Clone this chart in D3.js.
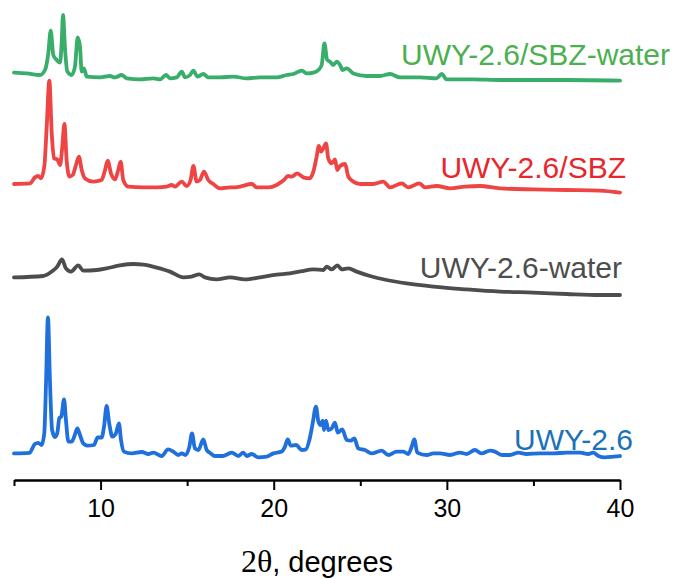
<!DOCTYPE html>
<html>
<head>
<meta charset="utf-8">
<script src="https://cdn.jsdelivr.net/npm/d3@7"></script>
<style>
  body { margin: 0; background: #fff; }
  svg { display: block; }
</style>
</head>
<body>
<div id="chart-area"></div>
<script>
// XRD patterns: [2theta (deg), intensity (a.u.)]
const xTicks = [10, 20, 30, 40];
const xMinorTicks = [5, 15, 25, 35];

const seriesNames = ["UWY-2.6", "UWY-2.6-water", "UWY-2.6/SBZ", "UWY-2.6/SBZ-water"];
const seriesOffsets = [10, 90, 140, 195];

const uwy = [
  [5.0,3.3],[5.9,3.6],[6.2,8.0],[6.4,8.6],[6.6,7.5],[6.75,13.5],[6.85,38.5],[6.96,71.3],[7.08,38.5],
  [7.2,15],[7.37,11.5],[7.5,13.5],[7.62,21],[7.73,21.7],[7.89,30.3],[8.0,20],[8.14,9.2],[8.33,9.2],
  [8.48,11.7],[8.66,15.8],[8.81,12.5],[9.0,8.3],[9.24,7.2],[9.62,7.5],[9.83,11.3],[10.06,11.2],
  [10.2,16.7],[10.35,27],[10.5,18.3],[10.68,11.7],[10.87,13],[11.06,18.3],[11.18,10],[11.35,4.2],
  [11.8,3.3],[12.38,4],[12.76,3],[13.05,3.7],[13.53,2],[13.9,5.3],[14.2,4.2],[14.49,2.5],[14.68,3.3],
  [14.9,2.5],[15.13,6.7],[15.28,13.3],[15.45,5.8],[15.65,5],[15.93,10.3],[16.13,5],[16.36,3.3],
  [16.6,2],[17.05,2],[17.44,3.3],[17.57,3.7],[17.96,2],[18.24,3.7],[18.44,2],[18.73,3],[19.11,1.3],
  [19.6,1.7],[19.98,3.3],[20.46,4.2],[20.65,6.7],[20.81,10.3],[20.98,7.2],[21.29,7.5],[21.62,5],
  [21.86,5.3],[22.06,10],[22.25,18.3],[22.44,26.7],[22.58,19.2],[22.71,17.5],[22.83,19.7],[22.9,15],
  [23.02,19.7],[23.15,15],[23.35,15.8],[23.54,18.7],[23.7,13.7],[23.96,15.3],[24.22,10],[24.45,9.7],
  [24.66,10.8],[24.88,5.8],[25.27,5],[25.66,3.3],[26.24,4.7],[26.62,2.5],[27.1,4.2],[27.49,4.2],
  [27.77,3],[27.97,6.7],[28.12,10.3],[28.29,3.7],[28.84,2.5],[29.22,3.3],[29.6,3.3],[30.18,2.5],
  [30.76,3.7],[31.14,3],[31.62,5],[32.0,3.3],[32.49,4.7],[32.78,4.2],[33.17,2.5],[33.65,2.5],
  [34.13,3.7],[34.61,3],[35.38,3.3],[36.15,3.3],[36.93,3.7],[37.7,3.7],[38.17,3],[38.46,3.7],
  [38.75,2],[39.14,1.3],[39.62,1.7],[40.0,2]
];

const uwyWater = [
  [5.0,11.3],[6.69,12],[7.18,14.2],[7.5,16.7],[7.77,20.3],[8.0,15.8],[8.29,14.2],[8.71,17.3],[9.0,14.7],
  [9.78,15],[10.35,15.8],[11.12,17.3],[11.89,18],[12.47,17.7],[13.24,16.2],[14.01,14.2],[14.78,11.3],
  [15.26,11.7],[15.7,12.8],[16.03,11.3],[16.71,10.3],[17.48,11.3],[18.34,10.3],[19.21,11.3],
  [20.17,12.7],[20.94,13.3],[21.6,14.4],[22.29,15.3],[22.87,15],[23.06,16.7],[23.35,15.3],
  [23.68,17.3],[23.93,15.3],[24.31,15.8],[24.79,14.2],[25.56,12],[26.52,10],[27.68,8.3],
  [29.22,6.7],[31.14,5.3],[33.07,4.2],[34.99,3.7],[36.92,3],[38.84,2.5],[40,2.5]
];

const uwySbz = [
  [5.0,8],[5.92,8.3],[6.21,11.3],[6.4,12],[6.56,10.8],[6.75,16.7],[6.89,36.7],[7.04,59.7],[7.18,33.3],
  [7.31,20.8],[7.5,20.3],[7.66,17.5],[7.79,26.7],[7.91,38],[8.04,20],[8.2,11.7],[8.39,12.5],[8.58,17.5],
  [8.75,21.7],[8.91,15],[9.1,10.8],[9.58,9.2],[10.06,10],[10.26,15],[10.41,19.7],[10.6,13.3],
  [10.83,10.3],[11.02,15],[11.16,19.2],[11.31,10],[11.6,6.7],[12.47,6.3],[13.24,6.3],[13.82,6.7],
  [14.11,7.5],[14.3,6.7],[14.69,9.2],[14.97,7],[15.2,10],[15.36,17],[15.55,9.2],[15.74,10],
  [15.97,14.2],[16.22,10],[16.51,8],[16.9,5.8],[17.48,6.3],[17.67,6.3],[18.05,6.7],[18.73,8],
  [19.02,6.3],[19.69,6.3],[20.17,7.5],[20.55,9.7],[20.84,12],[21.04,11.7],[21.36,13.3],[21.71,11.3],
  [22.06,10.8],[22.29,14.2],[22.48,21.7],[22.61,27],[22.73,24.2],[22.86,25.8],[23.02,28.3],
  [23.15,20.8],[23.35,18.3],[23.54,20.3],[23.67,15],[23.83,17],[24.12,18],[24.31,11.7],[24.6,9.2],
  [24.99,8],[25.75,8],[26.33,9.2],[26.72,6.3],[27.39,8.3],[27.77,6.3],[28.41,8.3],[28.74,6.3],
  [29.41,7],[30.18,5.8],[31.05,6.7],[31.91,7],[33.07,5.8],[34.99,5.3],[36.92,5],[38.84,4.7],[40,3.7]
];

const uwySbzWater = [
  [5.0,8.7],[5.73,8.3],[6.5,7.5],[6.79,10],[6.98,18.3],[7.12,29.7],[7.27,17.5],[7.47,15],[7.66,13.7],
  [7.76,25],[7.83,37.5],[7.95,20],[8.08,9.2],[8.33,7.5],[8.52,11.7],[8.68,26.3],[8.81,21.7],[8.91,9.2],
  [9.04,10.8],[9.2,6.7],[9.97,6.3],[10.54,7],[10.83,6.3],[11.22,7.5],[11.51,5.8],[12.28,5.3],
  [13.05,5.8],[13.43,5.3],[13.78,7.5],[14.01,5.8],[14.4,6.3],[14.69,9.2],[14.88,6.3],[15.17,7.5],
  [15.36,9.7],[15.59,6.7],[15.93,8],[16.22,6.3],[16.9,6.3],[17.67,6.7],[18.44,5.8],[19.21,6.3],
  [20.17,6.3],[20.75,7.5],[21.13,8],[21.62,9.7],[21.91,8.3],[22.29,8.7],[22.58,10],[22.77,12.5],
  [22.93,23.3],[23.08,15.2],[23.25,14.2],[23.44,12.5],[23.64,14.2],[23.83,12.5],[23.98,10],
  [24.22,10.8],[24.6,8.3],[25.37,7],[26.14,7],[26.72,8],[27.29,6.3],[28.45,6.3],[29.41,5.8],
  [29.7,8],[29.99,5.3],[31.53,5.3],[33.07,5],[34.99,5],[36.92,5],[40,4.7]
];

const seriesData = [uwy, uwyWater, uwySbz, uwySbzWater];
const lineColors = ["#1f6fdc", "#4d4d4d", "#ef4444", "#38ae6a"];
const labelColors = ["#1a72b8", "#4d4d4d", "#e8262c", "#4caf50"];

const width = 675;
const height = 578;
const axisY = 480;

const x = d3.scaleLinear().domain([5, 40]).range([14, 620]);
const y = d3.scaleLinear().domain([0, 240]).range([axisY, 0]);

const svg = d3.select("#chart-area")
  .append("svg")
  .attr("width", width)
  .attr("height", height);

const line = d3.line()
  .x(d => x(d[0]))
  .y(d => d[1])
  .curve(d3.curveMonotoneX);

// traces, stacked by offset
seriesData.forEach((data, i) => {
  const pts = data.map(d => [d[0], y(d[1] + seriesOffsets[i])]);
  svg.append("path")
    .attr("d", line(pts))
    .attr("fill", "none")
    .attr("stroke", lineColors[i])
    .attr("stroke-width", 3.8)
    .attr("stroke-linejoin", "round")
    .attr("stroke-linecap", "round");
});

// labels (right aligned, sitting above the tail of each trace)
const labelPos = [
  { x: 633, y: 450 },
  { x: 622, y: 278 },
  { x: 626, y: 178 },
  { x: 670, y: 65 }
];
seriesNames.forEach((name, i) => {
  svg.append("text")
    .attr("x", labelPos[i].x)
    .attr("y", labelPos[i].y)
    .attr("text-anchor", "end")
    .attr("font-family", "Liberation Sans, Arial, sans-serif")
    .attr("font-size", 30)
    .attr("fill", labelColors[i])
    .text(name);
});

// x axis
const axisG = svg.append("g").attr("transform", `translate(0,${axisY})`);
axisG.append("g")
  .call(d3.axisBottom(x).tickValues(xMinorTicks).tickSize(6).tickFormat(""))
  .call(g => g.select(".domain").remove())
  .selectAll("line").attr("stroke", "#000").attr("stroke-width", 2);

axisG.append("g")
  .call(d3.axisBottom(x).tickValues(xTicks).tickSize(10).tickSizeOuter(0).tickPadding(9).tickFormat(d3.format("d")))
  .call(g => g.select(".domain").attr("stroke", "#000").attr("stroke-width", 2.5))
  .call(g => g.selectAll("line").attr("stroke", "#000").attr("stroke-width", 2))
  .call(g => g.selectAll("text")
    .attr("font-family", "Liberation Sans, Arial, sans-serif")
    .attr("font-size", 25)
    .attr("fill", "#000"));

// axis title: serif 2θ, sans rest
const title = svg.append("text")
  .attr("x", x(22.5))
  .attr("y", 572)
  .attr("text-anchor", "middle")
  .attr("fill", "#000");
title.append("tspan")
  .attr("font-family", "Liberation Serif, Times New Roman, serif")
  .attr("font-size", 32)
  .text("2θ");
title.append("tspan")
  .attr("font-family", "Liberation Sans, Arial, sans-serif")
  .attr("font-size", 29)
  .text(", degrees");
</script>
</body>
</html>
